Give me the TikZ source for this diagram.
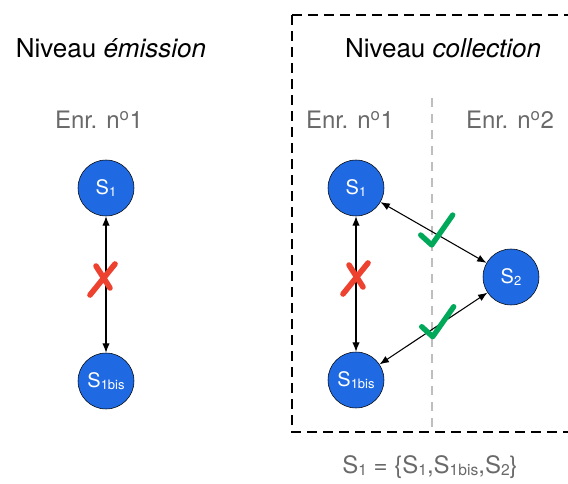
\documentclass[tikz,border=0pt]{standalone}
\usepackage{fontspec}
\setmainfont{TeX Gyre Heros}
\usetikzlibrary{arrows.meta}
\definecolor{colSite}{RGB}{31,106,226}
\definecolor{colOk}{RGB}{0,168,90}
\definecolor{colNo}{RGB}{238,66,48}
\definecolor{colLabel}{RGB}{105,105,105}
\definecolor{colDiv}{RGB}{190,190,190}
\newcommand{\idx}[1]{\raisebox{-0.2ex}{\scalebox{0.65}{#1}}}
\newcommand{\markno}[1]{\draw[no, shift={(#1)}] (-12,15) -- (13,-16) (-6,-14) -- (8,8);}
\newcommand{\markok}[1]{\draw[ok, shift={(#1)}] (-11,-10) -- (0,0) -- (21,-30);}

\begin{document}
\begin{tikzpicture}[x=0.75pt, y=-0.75pt,
    every node/.style={font=\fontsize{15}{18}\selectfont, align=center},
    site/.style={circle, draw, thin, fill=colSite, text=white, minimum size=42pt, inner sep=0pt},
    title/.style={font=\fontsize{19.5}{23}\selectfont},
    lbl/.style={text=colLabel, font=\fontsize{18}{22}\selectfont},
    link/.style={{Latex[length=7pt,width=5.5pt]}-{Latex[length=7pt,width=5.5pt]}, line width=0.8pt},
    no/.style={colNo, line width=4.2pt, line cap=round},
    ok/.style={colOk, line width=4pt, line cap=round, line join=round}
]
    \useasboundingbox (0,0) rectangle (568,484);

    % niveau emission
    \node[title] (tEm) at (111,48) {Niveau \textit{émission}};
    \node[lbl] (eA) at (99,120) {Enr. n\textsuperscript{o}1};
    \node[site] (a1) at (106,188) {S\idx{1}};
    \node[site] (a1b) at (106,381) {S\idx{1bis}};
    \draw[link] (a1) -- (a1b);
    \markno{102,280}

    % niveau collection
    \draw[line width=1pt, dash pattern=on 7.5pt off 4.5pt] (292,15) rectangle (600,432);
    \draw[colDiv, line width=0.8pt, dash pattern=on 7pt off 5pt] (432,98) -- (432,432);
    \node[title] (tCo) at (443,48) {Niveau \textit{collection}};
    \node[lbl] (eB) at (350,120) {Enr. n\textsuperscript{o}1};
    \node[lbl] (eC) at (510,120) {Enr. n\textsuperscript{o}2};
    \node[site] (b1) at (356,188) {S\idx{1}};
    \node[site] (b1b) at (356,380) {S\idx{1bis}};
    \node[site] (b2) at (511,277) {S\idx{2}};
    \draw[link] (b1) -- (b1b);
    \draw[link] (b1) -- (b2);
    \draw[link] (b1b) -- (b2);
    \markno{355,279}
    \markok{431.7,245}
    \markok{432.7,336.7}

    \node[lbl] (set) at (430,467) {S\idx{1} = \{S\idx{1},S\idx{1bis},S\idx{2}\}};
\end{tikzpicture}
\end{document}
